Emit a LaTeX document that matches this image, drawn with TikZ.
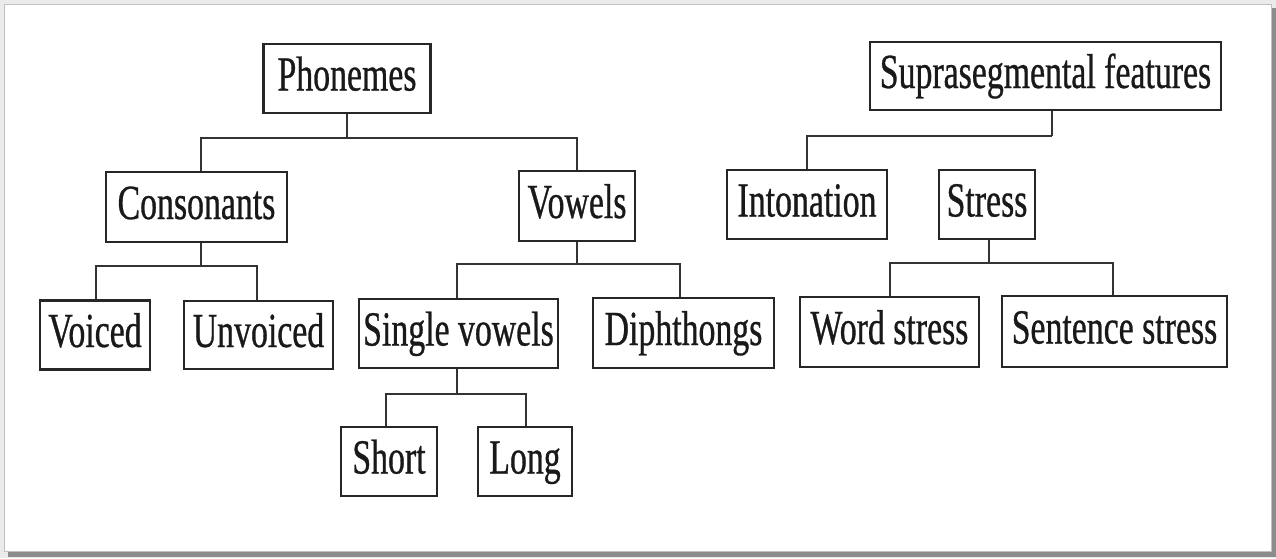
\documentclass[tikz,border=0pt]{standalone}
\usepackage{fontspec}
\setmainfont{Liberation Serif}[FakeStretch=0.69, FakeBold=0.6]
\begin{document}
\begin{tikzpicture}[x=1pt,y=-1pt,
  box/.style={draw=black!85, line width=2.5pt, rectangle, inner sep=0pt,
    text height=33pt, text depth=9pt, font=\fontsize{49}{55}\selectfont, text=black!90},
  conn/.style={draw=black!80, line width=2pt}]
  % page, drop shadow and frame
  \useasboundingbox (0,0) rectangle (1276,558);
  \fill[black!8] (0,0) rectangle (1276,558);
  \fill[black!45] (8,8) rectangle (1276,557);
  \fill[white] (4,4) rectangle (1272,552);
  \draw[black!25, line width=1pt] (4.5,4.5) rectangle (1271.5,551.5);

  % phonemes tree
  \node[box, minimum width=167pt, minimum height=69pt] (phon) at (347,78.5) {Phonemes};
  \node[box, minimum width=181pt, minimum height=70pt] (cons) at (196.5,207) {Consonants};
  \node[box, minimum width=116pt, minimum height=70pt] (vow)  at (577,206) {Vowels};
  \node[box, minimum width=110pt, minimum height=69pt] (voi)  at (95,335) {Voiced};
  \node[box, minimum width=149pt, minimum height=68pt] (unv)  at (258.5,335) {Unvoiced};
  \node[box, minimum width=199pt, minimum height=69pt] (sv)   at (458.5,333.5) {Single vowels};
  \node[box, minimum width=181pt, minimum height=70pt] (di)   at (683.5,333) {Diphthongs};
  \node[box, minimum width=96pt,  minimum height=69pt] (sh)   at (389,461.5) {Short};
  \node[box, minimum width=94pt,  minimum height=69pt] (lo)   at (525,461.5) {Long};

  % suprasegmental tree
  \node[box, minimum width=351pt, minimum height=68pt] (sup)  at (1045.5,76) {Suprasegmental features};
  \node[box, minimum width=160pt, minimum height=69pt] (int)  at (807,204.5) {Intonation};
  \node[box, minimum width=96pt,  minimum height=69pt] (str)  at (987,204.5) {Stress};
  \node[box, minimum width=179pt, minimum height=70pt] (ws)   at (889.5,332) {Word stress};
  \node[box, minimum width=225pt, minimum height=71pt] (ss)   at (1114.5,331.5) {Sentence stress};

  % bus junctions
  \coordinate (j1) at (347,137.5);
  \coordinate (j2) at (201,266);
  \coordinate (j3) at (577,264);
  \coordinate (j4) at (457,394);
  \coordinate (j5) at (1052,136);
  \coordinate (j6) at (989,263);

  % connectors
  \draw[conn] (phon.south) -- (j1);
  \draw[conn] ([xshift=4.5pt]cons.north) |- (j1) -| (vow.north);
  \draw[conn] ([xshift=4.5pt]cons.south) -- (j2);
  \draw[conn] ([xshift=1pt]voi.north) |- (j2) -| ([xshift=-1.5pt]unv.north);
  \draw[conn] (vow.south) -- (j3);
  \draw[conn] ([xshift=-1.5pt]sv.north) |- (j3) -| ([xshift=-3.5pt]di.north);
  \draw[conn] ([xshift=-1.5pt]sv.south) -- (j4);
  \draw[conn] ([xshift=-3pt]sh.north) |- (j4) -| ([xshift=1pt]lo.north);
  \draw[conn] ([xshift=6.5pt]sup.south) -- (j5);
  \draw[conn] (int.north) |- (j5);
  \draw[conn] ([xshift=2pt]str.north) -- (str.north -| j6);
  \draw[conn] ([xshift=2pt]str.south) -- (j6);
  \draw[conn] ([xshift=0.5pt]ws.north) |- (j6) -| ([xshift=-1.5pt]ss.north);
\end{tikzpicture}
\end{document}
